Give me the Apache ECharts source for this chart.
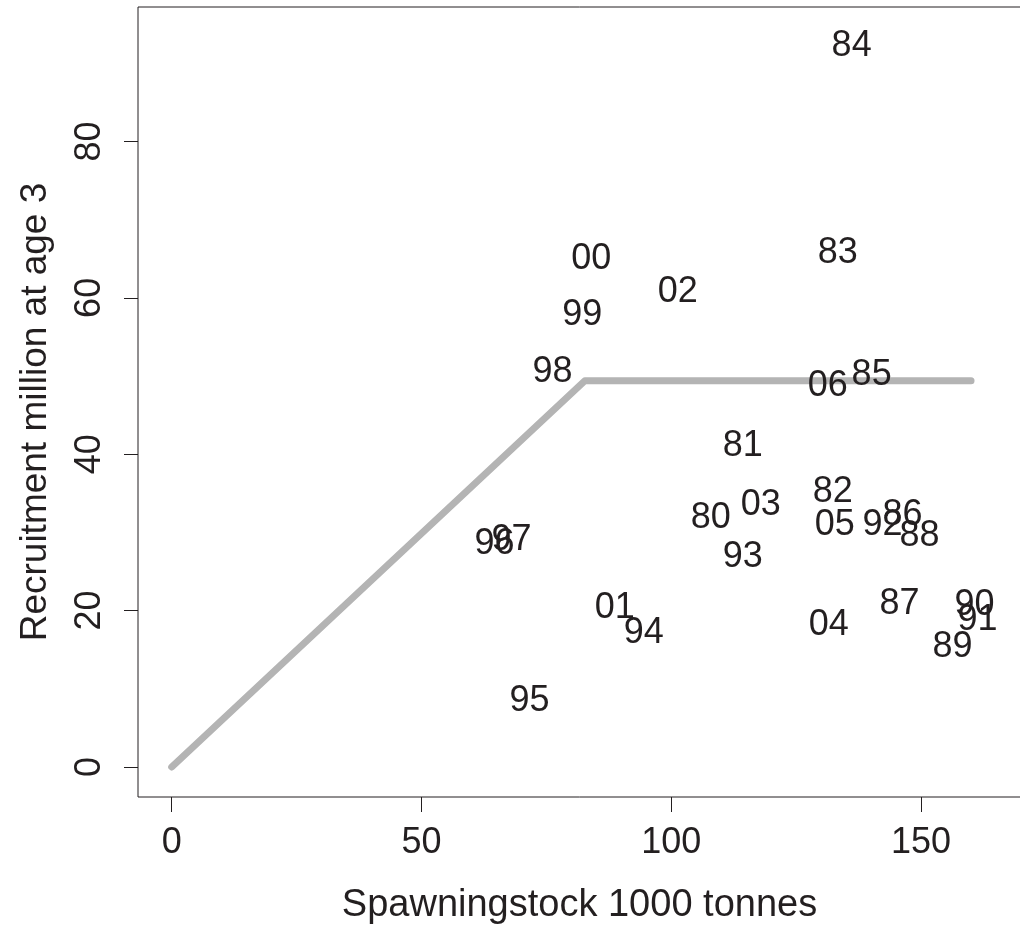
<!DOCTYPE html>
<html>
<head>
<meta charset="utf-8">
<script src="https://cdn.jsdelivr.net/npm/echarts@6/dist/echarts.min.js"></script>
<style>
html,body{margin:0;padding:0;background:#fff;}
#chart{width:1020px;height:925px;}
</style>
</head>
<body>
<div id="chart"></div>
<script>
// Year labels for each point
var years = ['84','83','00','02','99','98','06','85','81','82','03','80','05','92','86','88','96','97','93','01','94','87','90','91','04','89','95'];
// Spawning stock (1000 tonnes)
var ssb = [136.2,133.4,84.1,101.4,82.3,76.3,131.4,140.2,114.4,132.4,118.0,108.0,132.8,142.4,146.4,149.8,64.7,68.1,114.4,88.8,94.6,145.8,160.8,161.4,131.6,156.4,71.7];
// Recruitment (million at age 3)
var recruits = [92.5,66.1,65.3,61.1,58.1,50.8,49.1,50.5,41.3,35.5,33.8,32.1,31.2,31.2,32.6,29.9,28.8,29.4,27.2,20.6,17.4,21.2,21.0,19.1,18.5,15.6,8.7];
// Hockey-stick stock-recruitment line
var lineX = [0, 82.7, 160];
var lineY = [0, 49.4, 49.4];
// Tick values
var xTicks = [0, 50, 100, 150];
var yTicks = [0, 20, 40, 60, 80];

var textColor = '#231f20';
var fontFam = '"Liberation Sans", Arial, sans-serif';

var pts = ssb.map(function (x, i) { return [x, recruits[i], years[i]]; });
var linePts = lineX.map(function (x, i) { return [x, lineY[i]]; });

var chart = echarts.init(document.getElementById('chart'), null, {renderer: 'canvas'});
chart.setOption({
  animation: false,
  backgroundColor: '#ffffff',
  textStyle: {fontFamily: fontFam},
  grid: {left: 138, top: 7, right: -1, bottom: 128, show: true, borderColor: textColor, borderWidth: 1,
         backgroundColor: 'transparent', containLabel: false, outerBoundsMode: 'none'},
  xAxis: {
    type: 'value', min: -6.75, max: 170,
    splitLine: {show: false},
    axisLine: {show: false, onZero: false},
    axisTick: {show: true, inside: false, length: 15, lineStyle: {color: textColor, width: 1}, customValues: xTicks},
    axisLabel: {show: true, margin: 28, fontSize: 36, color: textColor, fontFamily: fontFam, customValues: xTicks},
    name: 'Spawningstock 1000 tonnes', nameLocation: 'middle', nameGap: 90,
    nameTextStyle: {fontSize: 38, color: textColor, fontFamily: fontFam}
  },
  yAxis: {
    type: 'value', min: -3.84, max: 97.2,
    splitLine: {show: false},
    axisLine: {show: false, onZero: false},
    axisTick: {show: true, inside: false, length: 14, lineStyle: {color: textColor, width: 1}, customValues: yTicks},
    axisLabel: {show: true, margin: 30, rotate: 90, fontSize: 36, color: textColor, fontFamily: fontFam, customValues: yTicks},
    name: 'Recruitment million at age 3', nameLocation: 'middle', nameGap: 84, nameRotate: 90,
    nameTextStyle: {fontSize: 37, color: textColor, fontFamily: fontFam, padding: [0, 20, 0, 0]}
  },
  series: [
    {
      type: 'line', data: linePts, symbol: 'none', silent: true, z: 1,
      lineStyle: {color: '#b4b4b4', width: 7, cap: 'round', join: 'round'}
    },
    {
      type: 'scatter', data: pts, symbolSize: 1, z: 2, silent: true,
      itemStyle: {color: '#ffffff', opacity: 1},
      label: {
        show: true, position: [0, 0], align: 'center', verticalAlign: 'middle', offset: [0, 3],
        fontSize: 36, color: textColor, fontFamily: fontFam, opacity: 1,
        textBorderWidth: 0,
        formatter: function (p) { return p.data[2]; }
      }
    }
  ]
});
</script>
</body>
</html>
